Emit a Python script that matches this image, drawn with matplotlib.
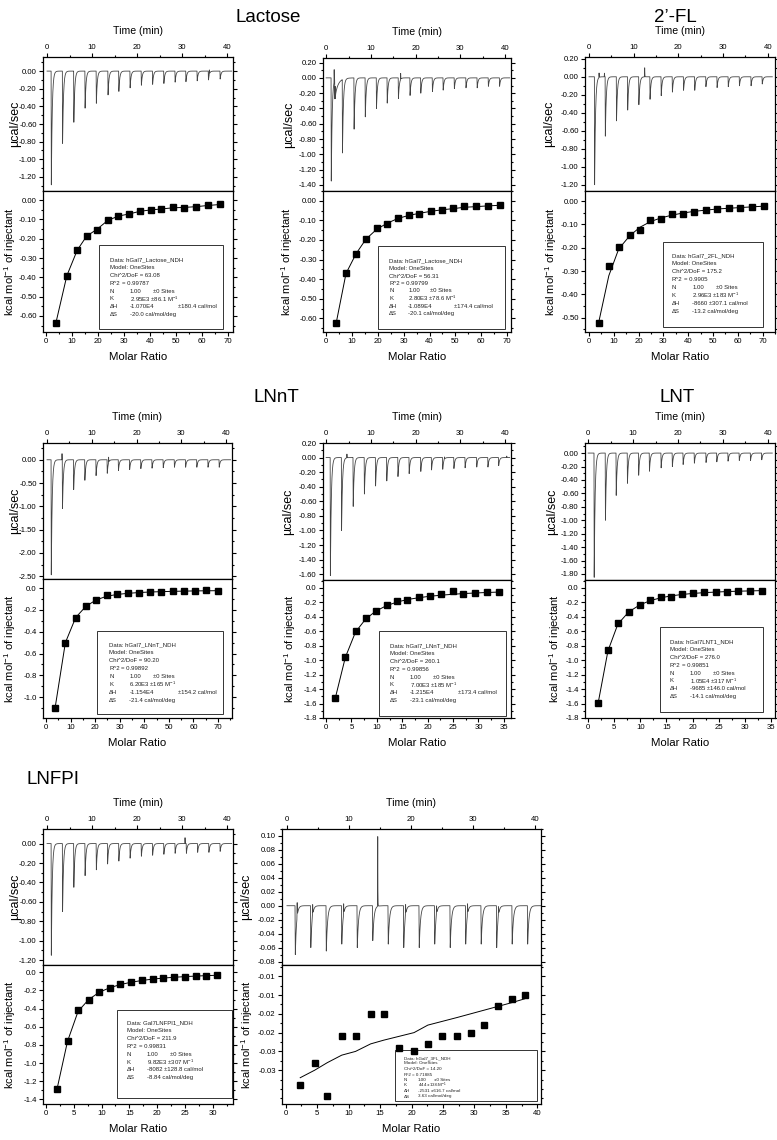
import numpy as np
import matplotlib
matplotlib.use("Agg")
import matplotlib.pyplot as plt
from matplotlib import font_manager
from matplotlib.ticker import MultipleLocator, FormatStrFormatter
from matplotlib.patches import Rectangle

# Origin draws its texts a bit narrow; use the narrow Liberation face when it is there
NARROW = 'Liberation Sans Narrow' in {f.name for f in font_manager.fontManager.ttflist}
plt.rcParams['font.family'] = ['Liberation Sans Narrow', 'Liberation Sans', 'DejaVu Sans'] if NARROW \
    else ['Liberation Sans', 'DejaVu Sans']
plt.rcParams['mathtext.fontset'] = 'custom'
plt.rcParams['mathtext.rm'] = 'Liberation Sans'
plt.rcParams['mathtext.it'] = 'Liberation Sans:italic'
REG = ['Liberation Sans', 'DejaVu Sans']

if NARROW:
    FS_TICK, FS_TIME, FS_MOLAR, FS_TITLE, FS_BOX = 6.5, 8.5, 9.5, 15, 5.0
else:
    FS_TICK, FS_TIME, FS_MOLAR, FS_TITLE, FS_BOX = 5.6, 7.6, 8.2, 13.5, 4.3

W, H = 777, 1140

# ---------------- data ----------------
# Lactose (left)
lac1_inj_t = [0.9, 3.4, 5.9, 8.4, 10.9, 13.5, 15.9, 18.4, 20.9, 23.4, 25.9, 28.4, 30.8, 33.3, 35.8, 38.4]
lac1_inj_h = [-1.29, -0.82, -0.58, -0.42, -0.365, -0.27, -0.23, -0.19, -0.16, -0.15, -0.14, -0.125, -0.12, -0.11, -0.10, -0.09]
lac1_spikes = [(36.0, 0.05, 0.03)]
lac1_ratio = [3.8, 8.0, 12.0, 15.6, 19.7, 23.7, 27.8, 31.9, 36.2, 40.3, 44.4, 48.9, 53.2, 57.9, 62.3, 66.9]
lac1_heat = [-0.634, -0.391, -0.259, -0.187, -0.156, -0.104, -0.081, -0.074, -0.055, -0.050, -0.047, -0.036, -0.043, -0.036, -0.026, -0.022]
lac1_fit = [-0.634, -0.391, -0.259, -0.187, -0.150, -0.106, -0.083, -0.072, -0.058, -0.051, -0.046, -0.040, -0.038, -0.034, -0.028, -0.023]
lac1_txt = ["hGal7_Lactose_NDH", "63.08", "0.99787", "2.95E3 ±86.1", "-1.070E4", "180.4", "-20.0"]

# Lactose (right)
lac2_inj_t = [1.1, 3.6, 6.2, 8.7, 11.2, 13.6, 16.1, 18.7, 21.1, 23.7, 26.1, 28.6, 31.2, 33.7, 36.2, 38.7]
lac2_inj_h = [-1.35, -0.96, -0.67, -0.51, -0.40, -0.33, -0.27, -0.23, -0.20, -0.18, -0.16, -0.14, -0.13, -0.13, -0.11, -0.11]
lac2_spikes = [(1.75, 0.16, 0.03), (1.9, -0.25, 0.05), (2.0, -0.22, 0.7), (16.6, 0.08, 0.03)]
lac2_ratio = [3.9, 7.7, 11.6, 15.4, 19.6, 23.7, 27.8, 31.9, 36.0, 40.4, 44.8, 49.2, 53.5, 57.9, 62.5, 67.2]
lac2_heat = [-0.624, -0.371, -0.272, -0.196, -0.141, -0.116, -0.087, -0.075, -0.065, -0.053, -0.046, -0.039, -0.027, -0.029, -0.026, -0.022]
lac2_fit = [-0.624, -0.371, -0.270, -0.196, -0.145, -0.114, -0.090, -0.075, -0.064, -0.054, -0.046, -0.040, -0.033, -0.030, -0.026, -0.023]
lac2_txt = ["hGal7_Lactose_NDH", "56.31", "0.99799", "2.80E3 ±78.6", "-1.089E4", "174.4", "-20.1"]

# 2'-FL
fl2_inj_t = [1.2, 3.6, 6.1, 8.6, 11.1, 13.6, 16.1, 18.6, 21.1, 23.6, 26.1, 28.6, 31.1, 33.6, 36.2, 38.7]
fl2_inj_h = [-1.20, -0.66, -0.49, -0.37, -0.31, -0.25, -0.21, -0.17, -0.15, -0.15, -0.11, -0.12, -0.11, -0.10, -0.10, -0.08]
fl2_spikes = [(2.2, 0.05, 0.03), (3.4, 0.04, 0.03), (12.4, 0.10, 0.03)]
fl2_ratio = [3.9, 8.0, 12.0, 16.5, 20.6, 24.8, 29.1, 33.6, 38.1, 42.5, 47.1, 51.7, 56.3, 60.9, 65.7, 70.4]
fl2_heat = [-0.521, -0.278, -0.199, -0.146, -0.124, -0.081, -0.078, -0.054, -0.054, -0.045, -0.040, -0.036, -0.031, -0.028, -0.026, -0.021]
fl2_fit = [-0.521, -0.320, -0.205, -0.148, -0.112, -0.088, -0.072, -0.060, -0.051, -0.044, -0.039, -0.034, -0.031, -0.028, -0.025, -0.022]
fl2_txt = ["hGal7_2FL_NDH", "175.2", "0.9905", "2.96E3 ±183", "-8660 ±307.1 cal/mol", None, "-13.2"]

# LNnT (left)
lnnt1_inj_t = [0.9, 3.4, 5.9, 8.4, 10.9, 13.4, 15.9, 18.4, 20.9, 23.4, 25.9, 28.4, 30.9, 33.4, 35.9, 38.4]
lnnt1_inj_h = [-2.47, -1.05, -0.64, -0.44, -0.34, -0.29, -0.23, -0.21, -0.19, -0.18, -0.17, -0.16, -0.16, -0.16, -0.16, -0.16]
lnnt1_spikes = [(3.3, 0.13, 0.03), (13.7, 0.12, 0.03)]
lnnt1_ratio = [3.7, 7.9, 12.1, 16.3, 20.5, 24.7, 29.1, 33.5, 37.9, 42.4, 46.9, 51.5, 56.1, 60.7, 65.3, 70.1]
lnnt1_heat = [-1.10, -0.50, -0.27, -0.166, -0.107, -0.067, -0.055, -0.049, -0.043, -0.034, -0.037, -0.028, -0.031, -0.025, -0.021, -0.031]
lnnt1_fit = [-1.10, -0.50, -0.27, -0.166, -0.108, -0.075, -0.058, -0.048, -0.041, -0.036, -0.033, -0.030, -0.028, -0.026, -0.025, -0.024]
lnnt1_txt = ["hGal7_LNnT_NDH", "90.20", "0.99892", "6.20E3 ±165", "-1.154E4", "154.2", "-21.4"]

# LNnT (right)
lnnt2_inj_t = [0.9, 3.4, 6.0, 8.5, 11.0, 13.5, 16.0, 18.5, 21.1, 23.5, 26.0, 28.5, 31.0, 33.6, 36.1, 38.5]
lnnt2_inj_h = [-1.62, -1.00, -0.67, -0.50, -0.39, -0.32, -0.26, -0.22, -0.19, -0.17, -0.16, -0.15, -0.14, -0.13, -0.13, -0.11]
lnnt2_spikes = [(4.6, 0.05, 0.03), (26.4, 0.03, 0.03), (40.3, 0.02, 0.03)]
lnnt2_ratio = [1.8, 3.8, 5.8, 7.8, 9.8, 11.9, 14.0, 16.0, 18.3, 20.4, 22.7, 24.9, 27.0, 29.3, 31.6, 34.0]
lnnt2_heat = [-1.53, -0.96, -0.60, -0.42, -0.32, -0.24, -0.18, -0.16, -0.13, -0.11, -0.09, -0.045, -0.08, -0.07, -0.055, -0.055]
lnnt2_fit = [-1.53, -0.96, -0.61, -0.43, -0.32, -0.245, -0.195, -0.16, -0.135, -0.115, -0.10, -0.088, -0.078, -0.07, -0.063, -0.057]
lnnt2_txt = ["hGal7_LNnT_NDH", "260.1", "0.99856", "7.00E3 ±185", "-1.215E4", "173.4", "-23.1"]

# LNT
lnt_inj_t = [1.3, 3.8, 6.2, 8.7, 11.2, 13.6, 16.2, 18.7, 21.1, 23.6, 26.2, 28.6, 31.1, 33.6, 36.1, 38.6]
lnt_inj_h = [-1.85, -1.00, -0.63, -0.45, -0.33, -0.27, -0.22, -0.20, -0.17, -0.15, -0.14, -0.13, -0.12, -0.11, -0.11, -0.10]
lnt_spikes = []
lnt_ratio = [1.9, 3.8, 5.7, 7.8, 9.9, 11.9, 14.0, 15.9, 18.0, 20.1, 22.2, 24.5, 26.6, 28.7, 31.0, 33.3]
lnt_heat = [-1.59, -0.86, -0.48, -0.33, -0.23, -0.17, -0.12, -0.12, -0.09, -0.07, -0.06, -0.055, -0.055, -0.04, -0.037, -0.037]
lnt_fit = [-1.60, -0.87, -0.50, -0.33, -0.235, -0.175, -0.135, -0.11, -0.09, -0.076, -0.065, -0.057, -0.05, -0.045, -0.041, -0.037]
lnt_txt = ["hGal7LNT1_NDH", "276.0", "0.99851", "1.05E4 ±317", "-9685 ±146.0 cal/mol", None, "-14.1"]

# LNFPI
lnfp_inj_t = [0.9, 3.4, 5.9, 8.4, 10.9, 13.4, 15.9, 18.4, 20.9, 23.4, 25.9, 28.4, 30.9, 33.4, 35.9, 38.4]
lnfp_inj_h = [-1.15, -0.70, -0.45, -0.33, -0.27, -0.21, -0.18, -0.15, -0.13, -0.12, -0.11, -0.10, -0.10, -0.09, -0.09, -0.08]
lnfp_spikes = [(30.6, 0.06, 0.03)]
lnfp_ratio = [2.0, 3.9, 5.8, 7.7, 9.6, 11.5, 13.4, 15.3, 17.3, 19.2, 21.1, 23.0, 25.0, 26.9, 28.8, 30.8]
lnfp_heat = [-1.29, -0.76, -0.42, -0.30, -0.22, -0.17, -0.13, -0.11, -0.09, -0.07, -0.06, -0.05, -0.05, -0.04, -0.04, -0.03]
lnfp_fit = [-1.29, -0.76, -0.43, -0.30, -0.22, -0.17, -0.135, -0.11, -0.09, -0.075, -0.064, -0.055, -0.048, -0.042, -0.037, -0.033]
lnfp_txt = ["Gal7LNFPI1_NDH", "211.9", "0.99831", "9.82E3 ±307", "-8082 ±128.8 cal/mol", None, "-8.84"]

# 3-FL
fl3_inj_t = [1.3, 3.8, 6.3, 8.8, 11.3, 13.8, 16.3, 18.8, 21.3, 23.8, 26.3, 28.8, 31.3, 33.8, 36.3, 38.8]
fl3_inj_h = [-0.07, -0.06, -0.065, -0.055, -0.06, -0.05, -0.055, -0.06, -0.06, -0.055, -0.06, -0.055, -0.055, -0.06, -0.055, -0.055]
fl3_spikes = [(14.6, 0.10, 0.02), (1.6, 0.02, 0.02), (4.1, 0.015, 0.02), (9.1, 0.015, 0.02),
              (19.1, 0.015, 0.02), (24.1, 0.012, 0.02), (29.1, 0.015, 0.02), (34.1, 0.012, 0.02)]
fl3_ratio = [2.3, 4.6, 6.6, 8.9, 11.1, 13.5, 15.6, 18.0, 20.4, 22.6, 24.9, 27.2, 29.4, 31.6, 33.8, 36.0, 38.0]
fl3_heat = [-0.034, -0.028, -0.037, -0.021, -0.021, -0.015, -0.015, -0.024, -0.025, -0.023, -0.021, -0.021, -0.020, -0.018, -0.013, -0.011, -0.010]
fl3_fit = [-0.032, -0.030, -0.028, -0.026, -0.025, -0.023, -0.022, -0.021, -0.020, -0.018, -0.017, -0.016, -0.015, -0.014, -0.013, -0.012, -0.011]
fl3_txt = ["hGal7_3FL_NDH", "14.20", "0.71885", "444 ±136", "-2531 ±616.7 cal/mol", None, "3.63"]
fl3_ylabels = ["-0.01", "-0.01", "-0.02", "-0.02", "-0.03", "-0.03"]
fl3_yticks = [-0.005, -0.010, -0.015, -0.020, -0.025, -0.030]

fig = plt.figure(figsize=(W / 100, H / 100), dpi=100)


def peak_shape(t, t0, h, tau, rise=0.05):
    dt = t - t0
    s = np.where(dt < 0, 0.0, np.where(dt < rise, dt / rise, np.exp(-(dt - rise) / tau)))
    return h * s


def thermogram(times, heights, spikes):
    t = np.linspace(0, 41, 4101)
    y = np.zeros_like(t)
    for t0, h in zip(times, heights):
        y += peak_shape(t, t0, h, 0.2)
    for t0, h, tau in spikes:
        y += peak_shape(t, t0, h, tau)
    return t, y


def style(ax):
    for s in ax.spines.values():
        s.set_linewidth(0.9)
    ax.tick_params(which='both', direction='out', labelsize=FS_TICK, width=0.8, pad=1.5)
    ax.tick_params(which='major', length=3)
    ax.tick_params(which='minor', length=1.6)


def info_box(ax, geo, box, txt_xy, txt, fs, dy=7.8):
    l, r, m, b = geo
    fx = lambda x: (x - l) / (r - l)
    fy = lambda y: (b - y) / (b - m)
    x0, y0, x1, y1 = box
    ax.add_patch(Rectangle((fx(x0), fy(y1)), fx(x1) - fx(x0), fy(y0) - fy(y1),
                           transform=ax.transAxes, fill=False, lw=0.7, ec='#333333'))
    name, chi, r2, k, dh, dh_err, ds = txt
    sc = dy / 7.8
    rows = [[(0, "Data: " + name)], [(0, "Model: OneSites")], [(0, "Chi^2/DoF = " + chi)],
            [(0, "R^2"), (12, "= " + r2)], [(0, "N"), (20, "1.00"), (43, "±0 Sites")],
            [(0, "K"), (20, k + r" M$^{-1}$")]]
    if dh_err is None:
        rows.append([(0, "ΔH"), (20, dh)])
    else:
        rows.append([(0, "ΔH"), (20, dh), (68, "±" + dh_err + " cal/mol")])
    rows.append([(0, "ΔS"), (20, ds + " cal/mol/deg")])
    tx, ty = txt_xy
    for i, row in enumerate(rows):
        for off, s in row:
            ax.text(fx(tx + off * sc), fy(ty + i * dy), s, transform=ax.transAxes,
                    fontsize=fs, ha='left', va='center', color='#222222')


def panel(geo, t_data, b_data, opts):
    l, r, top, m, b = geo
    ax1 = fig.add_axes([l / W, 1 - m / H, (r - l) / W, (m - top) / H])
    ax2 = fig.add_axes([l / W, 1 - b / H, (r - l) / W, (b - m) / H])
    style(ax1)
    style(ax2)

    inj_t, inj_h, spikes = t_data
    t, y = thermogram(inj_t, inj_h, spikes)
    ax1.plot(t, y, color='#444444', lw=0.6)
    ax1.set_xlim(*opts['txlim'])
    ax1.set_ylim(*opts['tylim'])
    ax1.xaxis.set_major_locator(MultipleLocator(10))
    ax1.xaxis.set_minor_locator(MultipleLocator(5))
    ax1.yaxis.set_major_locator(MultipleLocator(opts['tymaj']))
    ax1.yaxis.set_minor_locator(MultipleLocator(opts['tymaj'] / 2))
    ax1.yaxis.set_major_formatter(FormatStrFormatter('%.2f'))
    ax1.tick_params(which='both', top=True, bottom=False, labeltop=True, labelbottom=False,
                    left=True, right=True)
    ax1.set_xlabel("Time (min)", fontsize=FS_TIME)
    ax1.xaxis.set_label_position('top')
    ax1.xaxis.set_label_coords(0.5, 1 + 26 / (m - top))
    ax1.xaxis.label.set_va('center')
    ax1.set_ylabel("µcal/sec", fontsize=9, family=REG)
    ax1.yaxis.set_label_coords((opts['ylx'] - l) / (r - l), 0.5)
    ax1.yaxis.label.set_va('center')

    ratio, heat, fit = b_data
    ax2.plot(ratio, fit, color='black', lw=0.7)
    ax2.plot(ratio, heat, 's', color='black', ms=4.8)
    ax2.set_xlim(*opts['bxlim'])
    ax2.set_ylim(*opts['bylim'])
    ax2.xaxis.set_major_locator(MultipleLocator(opts['bxmaj']))
    ax2.xaxis.set_minor_locator(MultipleLocator(opts['bxmaj'] / 2))
    if 'byticks' in opts:
        ax2.set_yticks(opts['byticks'], labels=opts['bylabels'])
        ax2.yaxis.set_minor_locator(MultipleLocator(0.0025))
    else:
        ax2.yaxis.set_major_locator(MultipleLocator(opts['bymaj']))
        ax2.yaxis.set_minor_locator(MultipleLocator(opts['bymaj'] / 2))
        ax2.yaxis.set_major_formatter(FormatStrFormatter(opts['byfmt']))
    ax2.tick_params(which='both', top=False, bottom=True, left=True, right=True)
    ax2.set_xlabel("Molar Ratio", fontsize=FS_MOLAR)
    ax2.xaxis.set_label_coords(0.5, -25 / (b - m))
    ax2.xaxis.label.set_va('center')
    ax2.set_ylabel(r"kcal mol$^{-1}$ of injectant", fontsize=8, family=REG)
    ax2.yaxis.set_label_coords((opts['kcx'] - l) / (r - l), 0.5)
    ax2.yaxis.label.set_va('center')

    info_box(ax2, (l, r, m, b), opts['box'], opts['txy'], opts['txt'],
             fs=opts.get('fs', FS_BOX), dy=opts.get('dy', 7.8))


# ---------------- row 1 ----------------
panel((43, 233, 57, 191, 332),
      (lac1_inj_t, lac1_inj_h, lac1_spikes), (lac1_ratio, lac1_heat, lac1_fit),
      dict(txlim=(-0.9, 41.3), tylim=(-1.36, 0.16), tymaj=0.2, ylx=15,
           bxlim=(-1.2, 72), bylim=(-0.683, 0.047), bxmaj=10, bymaj=0.1, byfmt='%.2f', kcx=10,
           box=(99, 245, 223, 329), txy=(110, 260), txt=lac1_txt))
panel((323, 511, 58, 191, 332),
      (lac2_inj_t, lac2_inj_h, lac2_spikes), (lac2_ratio, lac2_heat, lac2_fit),
      dict(txlim=(-0.7, 41.3), tylim=(-1.48, 0.26), tymaj=0.2, ylx=289,
           bxlim=(-1.2, 71.5), bylim=(-0.67, 0.05), bxmaj=10, bymaj=0.1, byfmt='%.2f', kcx=287,
           box=(378, 246, 505, 329), txy=(389, 261), txt=lac2_txt, dy=7.5))
panel((585, 775, 57, 191, 332),
      (fl2_inj_t, fl2_inj_h, fl2_spikes), (fl2_ratio, fl2_heat, fl2_fit),
      dict(txlim=(-0.9, 41.6), tylim=(-1.27, 0.22), tymaj=0.2, ylx=549,
           bxlim=(-1.6, 75), bylim=(-0.561, 0.043), bxmaj=10, bymaj=0.1, byfmt='%.2f', kcx=551,
           box=(663, 242, 763, 327), txy=(672, 256), txt=fl2_txt, dy=7.9))

# ---------------- row 2 ----------------
panel((43, 232, 443, 579, 718),
      (lnnt1_inj_t, lnnt1_inj_h, lnnt1_spikes), (lnnt1_ratio, lnnt1_heat, lnnt1_fit),
      dict(txlim=(-0.9, 41.3), tylim=(-2.56, 0.36), tymaj=0.5, ylx=15,
           bxlim=(-1.2, 75.7), bylim=(-1.19, 0.083), bxmaj=10, bymaj=0.2, byfmt='%.1f', kcx=10,
           box=(97, 631, 223, 714), txy=(109, 645), txt=lnnt1_txt, dy=7.9))
panel((323, 511, 443, 580, 718),
      (lnnt2_inj_t, lnnt2_inj_h, lnnt2_spikes), (lnnt2_ratio, lnnt2_heat, lnnt2_fit),
      dict(txlim=(-0.7, 41.3), tylim=(-1.68, 0.2), tymaj=0.2, ylx=288,
           bxlim=(-0.6, 36.4), bylim=(-1.8, 0.11), bxmaj=5, bymaj=0.2, byfmt='%.1f', kcx=290,
           box=(379, 631, 506, 716), txy=(390, 646), txt=lnnt2_txt))
panel((585, 775, 443, 580, 718),
      (lnt_inj_t, lnt_inj_h, lnt_spikes), (lnt_ratio, lnt_heat, lnt_fit),
      dict(txlim=(-0.7, 41.6), tylim=(-1.89, 0.15), tymaj=0.2, ylx=552,
           bxlim=(-0.6, 35.8), bylim=(-1.8, 0.11), bxmaj=5, bymaj=0.2, byfmt='%.1f', kcx=555,
           box=(660, 627, 763, 712), txy=(670, 642), txt=lnt_txt))

# ---------------- row 3 ----------------
panel((43, 233, 829, 965, 1104),
      (lnfp_inj_t, lnfp_inj_h, lnfp_spikes), (lnfp_ratio, lnfp_heat, lnfp_fit),
      dict(txlim=(-0.9, 41.3), tylim=(-1.25, 0.15), tymaj=0.2, ylx=15,
           bxlim=(-0.5, 33.6), bylim=(-1.45, 0.08), bxmaj=5, bymaj=0.2, byfmt='%.1f', kcx=10,
           box=(117, 1010, 232, 1098), txy=(127, 1023), txt=lnfp_txt))
panel((282, 541, 829, 965, 1104),
      (fl3_inj_t, fl3_inj_h, fl3_spikes), (fl3_ratio, fl3_heat, fl3_fit),
      dict(txlim=(-0.8, 41), tylim=(-0.085, 0.11), tymaj=0.02, ylx=246,
           bxlim=(-0.6, 40.6), bylim=(-0.039, -0.002), bxmaj=5, byticks=fl3_yticks,
           bylabels=fl3_ylabels, kcx=247,
           box=(395, 1050, 537, 1101), txy=(404, 1058), txt=fl3_txt, fs=FS_BOX * 0.75, dy=5.5))

# titles
fig.text(268 / W, 1 - 17 / H, "Lactose", fontsize=FS_TITLE, ha='center', va='center')
fig.text(675 / W, 1 - 17 / H, "2’-FL", fontsize=FS_TITLE, ha='center', va='center')
fig.text(276 / W, 1 - 398 / H, "LNnT", fontsize=FS_TITLE, ha='center', va='center')
fig.text(677 / W, 1 - 398 / H, "LNT", fontsize=FS_TITLE, ha='center', va='center')
fig.text(53 / W, 1 - 779 / H, "LNFPI", fontsize=FS_TITLE, ha='center', va='center')

fig.savefig("out.png", dpi=100)
